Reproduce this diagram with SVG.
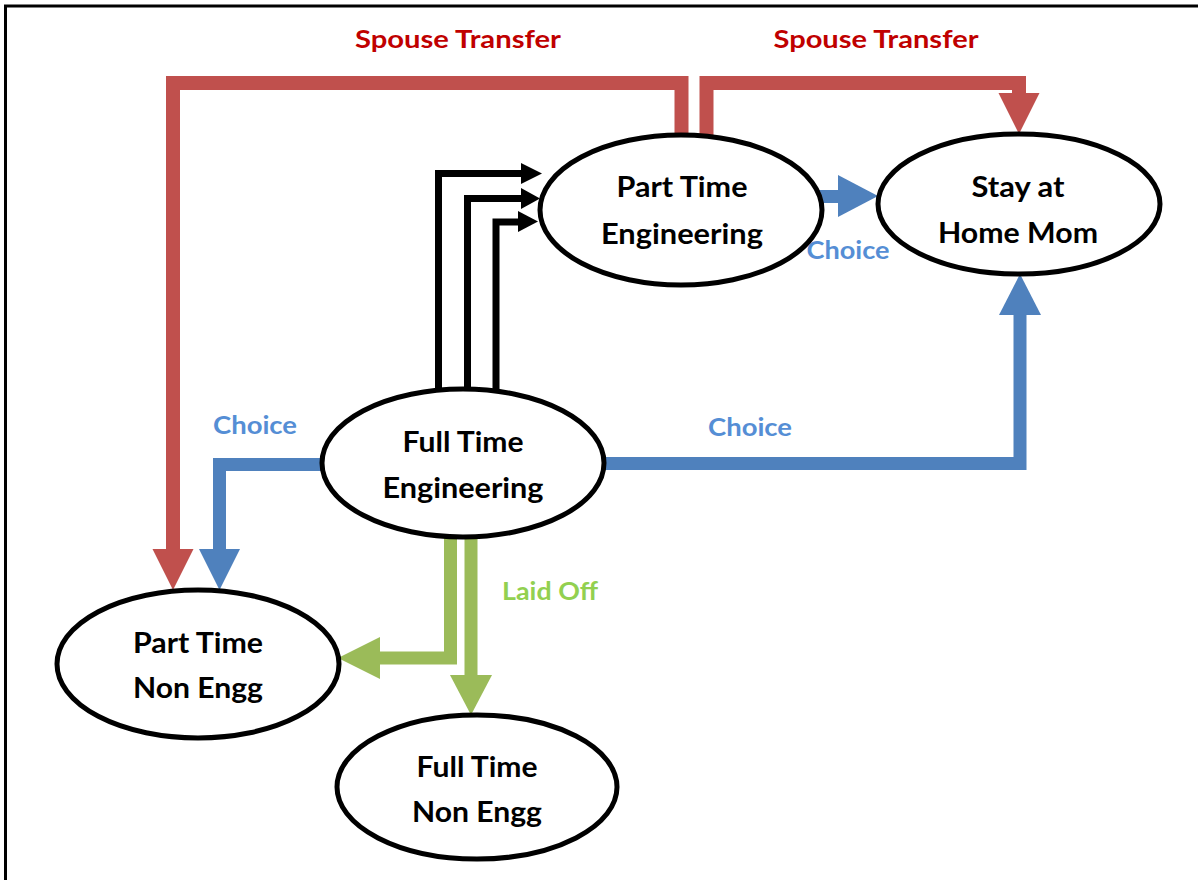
<svg xmlns="http://www.w3.org/2000/svg" width="1198" height="880" viewBox="0 0 1198 880">
<style>
.node ellipse{fill:#fff;stroke:#000;stroke-width:5}
.node text{font-family:Lato,"Liberation Sans",sans-serif;font-weight:bold;font-size:29px;fill:#000;text-anchor:middle}
.lbl{font-family:Lato,"Liberation Sans",sans-serif;font-weight:bold;font-size:25px;text-anchor:middle}
.red{stroke:#C0504D;fill:none;stroke-width:14;stroke-linejoin:miter}
.blue{stroke:#4F81BD;fill:none;stroke-width:13;stroke-linejoin:miter}
.green{stroke:#9BBB59;fill:none;stroke-width:13;stroke-linejoin:miter}
.blk{stroke:#000;fill:none;stroke-width:7;stroke-linejoin:miter}
</style>
<path d="M5.5,880 V6 H1198" fill="none" stroke="#000" stroke-width="3"/>
<g id="connectors">
<path class="red" d="M681.5,140 V83 H173 V550"/>
<polygon fill="#C0504D" points="152.5,549 193.5,549 173,590"/>
<path class="red" d="M706.5,140 V83 H1019 V94"/>
<polygon fill="#C0504D" points="998.5,93 1039.5,93 1019,134"/>
<path class="blue" d="M330,464.5 H219.5 V550"/>
<polygon fill="#4F81BD" points="199,549 240,549 219.5,590"/>
<path class="blue" d="M600,463.5 H1020 V314"/>
<polygon fill="#4F81BD" points="999,315 1041,315 1020,274"/>
<path class="blue" d="M818,196.5 H839"/>
<polygon fill="#4F81BD" points="838,175 838,217 878,196"/>
<path class="blk" d="M438.5,392 V173.5 H522"/>
<polygon fill="#000" points="521,163 542,173.5 521,184"/>
<path class="blk" d="M467.5,392 V198.5 H522"/>
<polygon fill="#000" points="521,188 540,198.5 521,209"/>
<path class="blk" d="M496,392 V222 H519"/>
<polygon fill="#000" points="518,211 538,221.5 518,232"/>
<path class="green" d="M450.5,533 V658 H379"/>
<polygon fill="#9BBB59" points="380,637 380,679 338,658"/>
<path class="green" d="M471,533 V676"/>
<polygon fill="#9BBB59" points="450,675 492,675 471,715"/>
<text class="lbl" x="458" y="48" fill="#C00000" textLength="206" lengthAdjust="spacingAndGlyphs">Spouse Transfer</text>
<text class="lbl" x="876" y="48" fill="#C00000" textLength="205" lengthAdjust="spacingAndGlyphs">Spouse Transfer</text>
<text class="lbl" x="848" y="259" fill="#558ED5" textLength="83" lengthAdjust="spacingAndGlyphs">Choice</text>
<text class="lbl" x="255" y="434" fill="#558ED5" textLength="84" lengthAdjust="spacingAndGlyphs">Choice</text>
<text class="lbl" x="750" y="436" fill="#558ED5" textLength="84" lengthAdjust="spacingAndGlyphs">Choice</text>
<text class="lbl" x="550" y="600" fill="#92D050" textLength="96" lengthAdjust="spacingAndGlyphs">Laid Off</text>
</g>
<g id="pte" class="node"><ellipse cx="681" cy="210" rx="141" ry="75"/><text x="682" y="197" textLength="131" lengthAdjust="spacingAndGlyphs">Part Time</text><text x="682" y="244" textLength="162" lengthAdjust="spacingAndGlyphs">Engineering</text></g>
<g id="sahm" class="node"><ellipse cx="1019" cy="204" rx="141" ry="70"/><text x="1018" y="197" textLength="93" lengthAdjust="spacingAndGlyphs">Stay at</text><text x="1018" y="243" textLength="160" lengthAdjust="spacingAndGlyphs">Home Mom</text></g>
<g id="fte" class="node"><ellipse cx="463" cy="463" rx="141" ry="74"/><text x="463" y="452" textLength="121" lengthAdjust="spacingAndGlyphs">Full Time</text><text x="463" y="498" textLength="161" lengthAdjust="spacingAndGlyphs">Engineering</text></g>
<g id="ptne" class="node"><ellipse cx="198" cy="664" rx="141" ry="74"/><text x="198" y="653" textLength="130" lengthAdjust="spacingAndGlyphs">Part Time</text><text x="198" y="698" textLength="130" lengthAdjust="spacingAndGlyphs">Non Engg</text></g>
<g id="ftne" class="node"><ellipse cx="477" cy="787" rx="140" ry="72"/><text x="477" y="777" textLength="121" lengthAdjust="spacingAndGlyphs">Full Time</text><text x="477" y="822" textLength="130" lengthAdjust="spacingAndGlyphs">Non Engg</text></g>
</svg>
